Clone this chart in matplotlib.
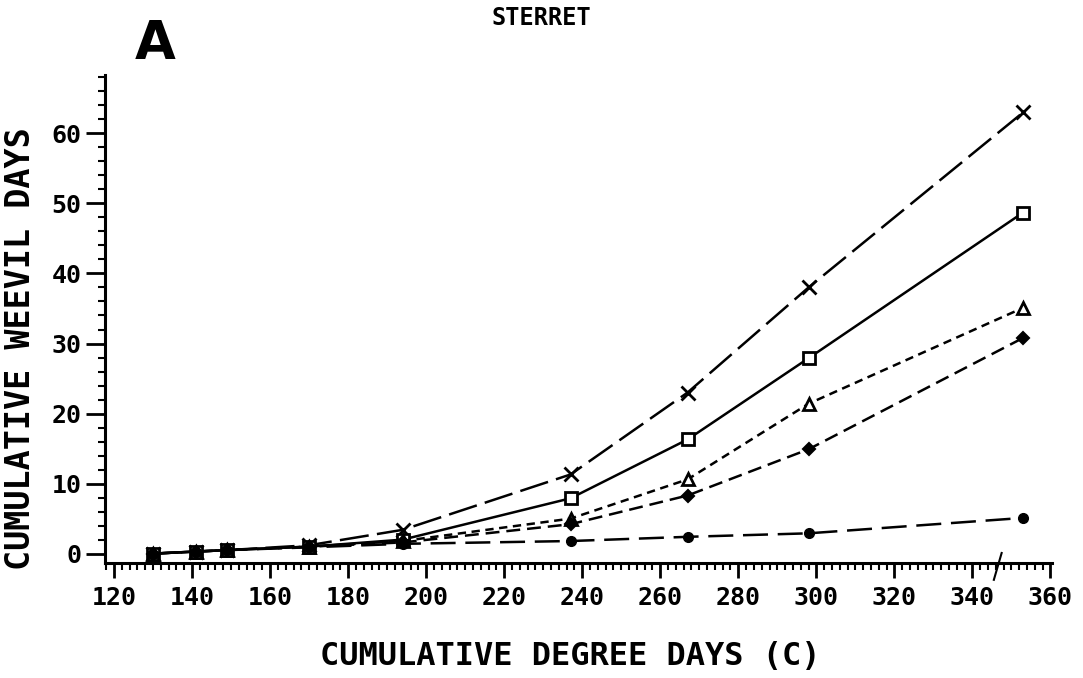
# Накопленные дни долгоносика в зависимости от накопленных градусо-дней (STERRET, панель A)

import matplotlib.pyplot as plt
from matplotlib.ticker import MultipleLocator
import matplotlib.transforms as mtransforms

plt.rcParams['lines.scale_dashes'] = False

# Данные
degree_days = [130, 141, 149, 170, 194, 237, 267, 298, 353]
series_x = [0, 0.3, 0.5, 1.2, 3.4, 11.3, 23.0, 38.0, 63.0]
series_square = [0, 0.3, 0.5, 1.0, 2.0, 7.9, 16.3, 27.9, 48.7]
series_triangle = [0, 0.3, 0.5, 1.0, 1.8, 5.0, 10.6, 21.4, 35.1]
series_diamond = [0, 0.3, 0.5, 1.0, 1.6, 4.2, 8.3, 14.9, 30.8]
series_circle = [0, 0.3, 0.5, 0.9, 1.4, 1.8, 2.4, 2.9, 5.1]

x_ticks = [120, 140, 160, 180, 200, 220, 240, 260, 280, 300, 320, 340, 360]
y_ticks = [0, 10, 20, 30, 40, 50, 60]

mono = 'DejaVu Sans Mono'

fig = plt.figure(figsize=(10.83, 6.78), dpi=100)
ax = fig.add_axes([0.097, 0.170, 0.874, 0.719])

lw = 1.8
ax.plot(degree_days, series_x, color='black', lw=lw, dashes=(21, 6),
        marker='x', markersize=10, markeredgewidth=2)
ax.plot(degree_days, series_square, color='black', lw=lw, linestyle='-',
        marker='s', markersize=9, markerfacecolor='white', markeredgewidth=2)
ax.plot(degree_days, series_triangle, color='black', lw=lw, dashes=(6, 4),
        marker='^', markersize=9, markerfacecolor='white', markeredgewidth=2)
ax.plot(degree_days, series_diamond, color='black', lw=lw, dashes=(10, 5),
        marker='D', markersize=6, markerfacecolor='black', markeredgewidth=1.5)
ax.plot(degree_days, series_circle, color='black', lw=lw, dashes=(18, 7),
        marker='o', markersize=7, markerfacecolor='black')

ax.set_xlim(117.7, 360.3)
ax.set_ylim(-1.3, 68.3)
ax.set_xticks(x_ticks)
ax.set_yticks(y_ticks)
ax.xaxis.set_minor_locator(MultipleLocator(2))
ax.yaxis.set_minor_locator(MultipleLocator(2))

for side in ['top', 'right']:
    ax.spines[side].set_visible(False)
for side in ['left', 'bottom']:
    ax.spines[side].set_linewidth(2.2)

ax.tick_params(which='major', direction='out', length=11, width=2, pad=6)
ax.tick_params(which='minor', direction='out', length=5, width=1.5)
ax.tick_params(axis='y', which='major', length=14, pad=3)
for lab in ax.get_xticklabels() + ax.get_yticklabels():
    lab.set_fontfamily(mono)
    lab.set_fontweight('bold')
    lab.set_fontsize(18)

# Разрыв оси X
trans = mtransforms.blended_transform_factory(ax.transData, ax.transAxes)
ax.plot([345.5, 347.5], [-0.035, 0.02], color='black', lw=1.5,
        transform=trans, clip_on=False)

ax.set_xlabel('CUMULATIVE DEGREE DAYS (C)', fontfamily=mono, fontweight='bold',
              fontsize=23)
ax.set_ylabel('CUMULATIVE WEEVIL DAYS', fontfamily=mono, fontweight='bold',
              fontsize=24)
ax.xaxis.set_label_coords(0.491, -0.16)
ax.yaxis.set_label_coords(-0.072, 0.44)

fig.text(0.5, 0.973, 'STERRET', ha='center', va='center', fontfamily=mono,
         fontweight='bold', fontsize=17)
fig.text(0.143, 0.935, 'A', ha='center', va='center', fontweight='bold',
         fontsize=38)

fig.savefig('out.png', dpi=100)
